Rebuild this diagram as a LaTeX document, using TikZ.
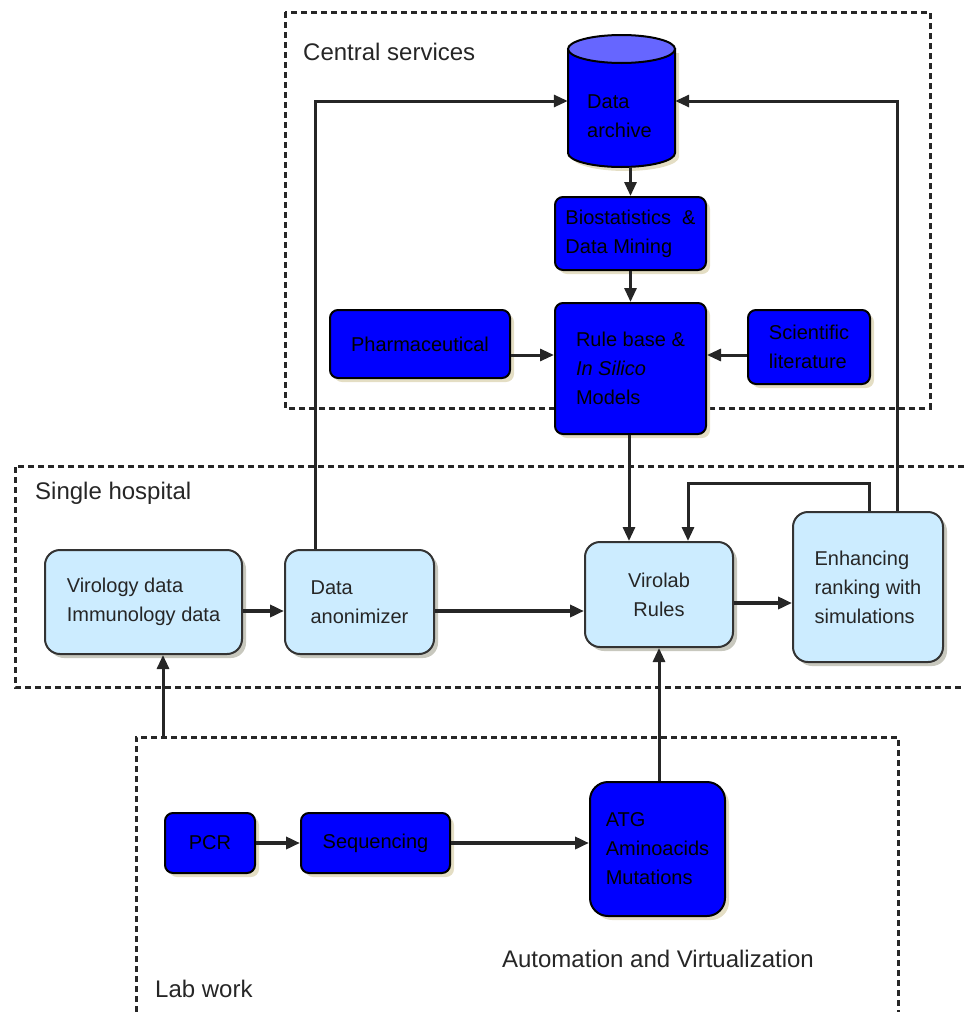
\documentclass[tikz,border=0pt]{standalone}
\usepackage{fontspec}
\setmainfont{Liberation Sans}
\usetikzlibrary{arrows.meta,shadows,calc}
\definecolor{dblue}{RGB}{0,0,255}
\definecolor{lblue}{RGB}{204,236,255}
\definecolor{ltop}{RGB}{102,102,255}
\definecolor{shad}{RGB}{228,222,196}
\definecolor{lshad}{RGB}{200,200,190}
\newcommand\bxfont{\fontsize{20}{29}\selectfont}
\newcommand\lbfont{\fontsize{24}{28}\selectfont}
\begin{document}
\begin{tikzpicture}[x=1pt,y=-1pt,
  darkbox/.style={draw=black, line width=2pt, fill=dblue, rounded corners=8pt,
    align=left, font=\bxfont, inner sep=0pt,
    drop shadow={shadow xshift=4pt, shadow yshift=-4pt, fill=shad, opacity=1, draw=none}},
  lightbox/.style={draw=black!80, line width=2pt, fill=lblue, rounded corners=15pt,
    align=left, font=\bxfont, text=black!85, inner sep=0pt,
    drop shadow={shadow xshift=4pt, shadow yshift=-4pt, fill=lshad, opacity=1, draw=none}},
  zone/.style={draw=black!85, line width=3pt, dash pattern=on 6pt off 4pt},
  zonelabel/.style={font=\lbfont, text=black!85, anchor=west, inner sep=0pt},
  conn/.style={draw=black!85, line width=3pt, -{Triangle[length=14pt,width=12pt]}},
  thick conn/.style={conn, line width=4.5pt},
]
\useasboundingbox (0,0) rectangle (964,1012);

% zones
\draw[zone] (285,12) rectangle (930,408);
\draw[zone] (964,466) -- (15,466) -- (15,687) -- (964,687);
\draw[zone] (136,1012) -- (136,737) -- (898,737) -- (898,1012);
\coordinate (labtop) at (163,737);

\node[zonelabel] (lcentral) at (303,52) {Central services};
\node[zonelabel] (lhosp) at (35,493) {Single hospital};
\node[zonelabel] (llab) at (155,989) {Lab work};
\node[font=\lbfont, text=black!85, inner sep=0pt] (lauto) at (658,959) {Automation and Virtualization};

% cylinder
\fill[shad] (572,53) -- (572,157) arc[start angle=180,end angle=0,x radius=53.5,y radius=14] -- (679,53) -- cycle;
\draw[black, line width=2pt, fill=dblue] (568,49) -- (568,153) arc[start angle=180,end angle=0,x radius=53.5,y radius=14] -- (675,49) -- cycle;
\draw[black, line width=2pt, fill=ltop] (621.5,49) ellipse[x radius=53.5, y radius=14];
\node[minimum width=107pt, minimum height=132pt, inner sep=0pt] (archive) at (621.5,101) {};
\node[font=\bxfont, align=left, inner sep=0pt, anchor=west] (archivetxt) at (587,116) {Data\\archive};

% central services boxes
\node[darkbox, minimum width=151pt, minimum height=73pt] (bio) at (630.5,233.5) {Biostatistics \ \&\\Data Mining};
\node[darkbox, minimum width=151pt, minimum height=131pt] (rule) at (630.5,368.5) {Rule base \&\\\textit{In Silico}\\Models};
\node[darkbox, minimum width=180pt, minimum height=68pt] (pharma) at (420,344) {Pharmaceutical};
\node[darkbox, minimum width=122pt, minimum height=74pt] (sci) at (809,347) {Scientific\\literature};

% hospital boxes
\node[lightbox, minimum width=197pt, minimum height=104pt] (virology) at (143.5,602) {Virology data\\Immunology data};
\node[lightbox, minimum width=149pt, minimum height=104pt] (anon) at (359.5,602) {Data\\anonimizer};
\node[lightbox, align=center, minimum width=148pt, minimum height=105pt] (virolab) at (659,594.5) {Virolab\\Rules};
\node[lightbox, minimum width=150pt, minimum height=150pt] (enh) at (868,587) {Enhancing\\ranking with\\simulations};

% lab boxes
\node[darkbox, minimum width=90pt, minimum height=60pt] (pcr) at (210,843) {PCR};
\node[darkbox, minimum width=149pt, minimum height=60pt] (seq) at (375.5,843) {Sequencing};
\node[darkbox, rounded corners=18pt, minimum width=135pt, minimum height=134pt] (atg) at (657.5,849) {ATG\\Aminoacids\\Mutations};

% connectors
\draw[conn] ($(anon.north west)+(31,0)$) |- (archive.west);
\draw[conn] ($(enh.north west)+(105,0)$) |- (archive.east);
\draw[conn] (archive.south -| bio.north) -- (bio.north);
\draw[conn] (bio.south) -- (rule.north);
\draw[conn] (pharma.east |- 0,355) -- (rule.west |- 0,355);
\draw[conn] (sci.west |- 0,355) -- (rule.east |- 0,355);
\draw[conn] (rule.south -| 629,0) -- (virolab.north -| 629,0);
\draw[conn] ($(enh.north west)+(77,0)$) |- (688,483) -- (virolab.north -| 688,0);
\draw[thick conn] (virolab.east |- 0,603) -- (enh.west |- 0,603);
\draw[thick conn] (anon.east |- 0,611) -- (virolab.west |- 0,611);
\draw[thick conn] (virology.east |- 0,611) -- (anon.west |- 0,611);
\draw[conn] (labtop) -- (virology.south -| labtop);
\draw[conn] (atg.north -| 659,0) -- (virolab.south -| 659,0);
\draw[thick conn] (pcr.east) -- (seq.west);
\draw[thick conn] (seq.east) -- (atg.west |- seq.east);
\end{tikzpicture}
\end{document}
